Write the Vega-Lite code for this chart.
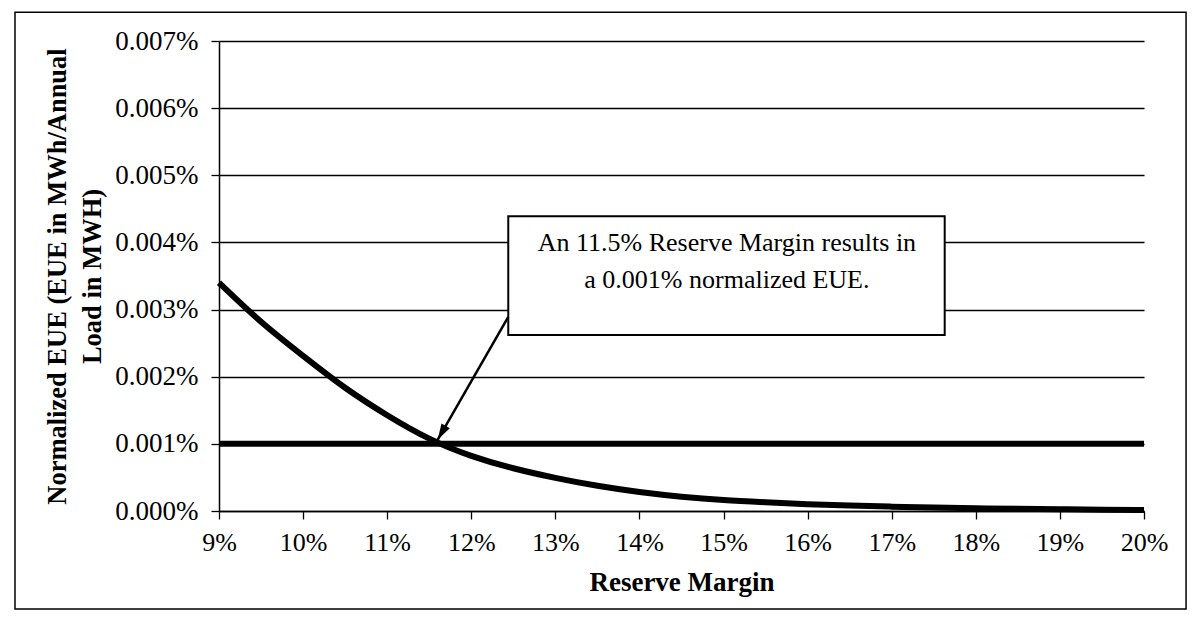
{
  "$schema": "https://vega.github.io/schema/vega-lite/v6.json",
  "width": 925,
  "height": 470,
  "autosize": {"type": "none"},
  "padding": {"left": 219, "top": 41, "right": 52, "bottom": 120},
  "background": "white",
  "config": {"view": {"stroke": null}, "font": "Liberation Serif"},
  "datasets": {
    "curve": [
      {"margin": 0.09, "eue": 0.0000340},
      {"margin": 0.095, "eue": 0.0000280},
      {"margin": 0.10, "eue": 0.0000231},
      {"margin": 0.105, "eue": 0.0000182},
      {"margin": 0.11, "eue": 0.0000142},
      {"margin": 0.115, "eue": 0.0000106},
      {"margin": 0.12, "eue": 0.0000081},
      {"margin": 0.125, "eue": 0.0000063},
      {"margin": 0.13, "eue": 0.0000049},
      {"margin": 0.135, "eue": 0.0000037},
      {"margin": 0.14, "eue": 0.0000028},
      {"margin": 0.145, "eue": 0.0000021},
      {"margin": 0.15, "eue": 0.0000016},
      {"margin": 0.155, "eue": 0.0000013},
      {"margin": 0.16, "eue": 0.0000010},
      {"margin": 0.165, "eue": 0.0000008},
      {"margin": 0.17, "eue": 0.00000065},
      {"margin": 0.175, "eue": 0.0000005},
      {"margin": 0.18, "eue": 0.0000004},
      {"margin": 0.185, "eue": 0.00000032},
      {"margin": 0.19, "eue": 0.00000025},
      {"margin": 0.195, "eue": 0.0000002},
      {"margin": 0.20, "eue": 0.00000015}
    ],
    "threshold": [{"start": 0.09, "end": 0.20, "eue": 0.00001}],
    "box": [{"left": 0.1244, "right": 0.1763, "top": 0.0000439, "bottom": 0.0000262}],
    "notes": [
      {"x": 0.1504, "y": 0.0000399, "label": "An 11.5% Reserve Margin results in"},
      {"x": 0.1504, "y": 0.0000344, "label": "a 0.001% normalized EUE."}
    ],
    "arrow": [{"x": 0.1244, "y": 0.0000289, "x2": 0.116, "y2": 0.0000106}],
    "frame": [{"left": 0.06574, "right": 0.2050, "top": 0.0000743, "bottom": -0.0000146}]
  },
  "encoding": {
    "x": {
      "type": "quantitative",
      "title": "Reserve Margin",
      "scale": {"domain": [0.09, 0.2], "nice": false, "zero": false},
      "axis": {
        "values": [0.09, 0.10, 0.11, 0.12, 0.13, 0.14, 0.15, 0.16, 0.17, 0.18, 0.19, 0.20],
        "format": ".0%",
        "grid": false,
        "domainColor": "black", "domainWidth": 1.5,
        "tickColor": "black", "tickSize": 8, "tickWidth": 1.3,
        "labelFont": "Liberation Serif", "labelFontSize": 26, "labelColor": "black",
        "labelPadding": 10, "labelFlush": false, "labelOverlap": false,
        "titleFont": "Liberation Serif", "titleFontSize": 27, "titleFontWeight": "bold",
        "titleColor": "black", "titlePadding": 14
      }
    },
    "y": {
      "type": "quantitative",
      "title": ["Normalized EUE (EUE in MWh/Annual", "Load in MWH)"],
      "scale": {"domain": [0, 0.00007], "nice": false, "zero": false},
      "axis": {
        "values": [0, 0.00001, 0.00002, 0.00003, 0.00004, 0.00005, 0.00006, 0.00007],
        "format": ".3%",
        "grid": true, "gridColor": "black", "gridWidth": 1.3, "gridOpacity": 1,
        "domainColor": "black", "domainWidth": 1.5,
        "tickColor": "black", "tickSize": 8, "tickWidth": 1.3,
        "labelFont": "Liberation Serif", "labelFontSize": 27, "labelColor": "black",
        "labelPadding": 13, "labelFlush": false, "labelOverlap": false,
        "titleFont": "Liberation Serif", "titleFontSize": 26.5, "titleFontWeight": "bold",
        "titleColor": "black", "titlePadding": 8, "titleLineHeight": 35
      }
    }
  },
  "layer": [
    {
      "data": {"name": "threshold"},
      "mark": {"type": "rule", "color": "black", "strokeWidth": 6},
      "encoding": {
        "x": {"field": "start", "type": "quantitative", "title": "Reserve Margin"},
        "x2": {"field": "end"},
        "y": {"field": "eue", "type": "quantitative", "title": ["Normalized EUE (EUE in MWh/Annual", "Load in MWH)"]}
      }
    },
    {
      "data": {"name": "curve"},
      "mark": {"type": "line", "color": "black", "strokeWidth": 6, "interpolate": "basis"},
      "encoding": {
        "x": {"field": "margin", "type": "quantitative", "title": "Reserve Margin"},
        "y": {"field": "eue", "type": "quantitative", "title": ["Normalized EUE (EUE in MWh/Annual", "Load in MWH)"]}
      }
    },
    {
      "data": {"name": "box"},
      "mark": {"type": "rect", "fill": "white", "stroke": "black", "strokeWidth": 2},
      "encoding": {
        "x": {"field": "left", "type": "quantitative", "title": "Reserve Margin"},
        "x2": {"field": "right"},
        "y": {"field": "top", "type": "quantitative", "title": ["Normalized EUE (EUE in MWh/Annual", "Load in MWH)"]},
        "y2": {"field": "bottom"}
      }
    },
    {
      "data": {"name": "notes"},
      "mark": {"type": "text", "font": "Liberation Serif", "fontSize": 26, "color": "black", "align": "center", "baseline": "middle"},
      "encoding": {
        "x": {"field": "x", "type": "quantitative", "title": "Reserve Margin"},
        "y": {"field": "y", "type": "quantitative", "title": ["Normalized EUE (EUE in MWh/Annual", "Load in MWH)"]},
        "text": {"field": "label"}
      }
    },
    {
      "data": {"name": "arrow"},
      "mark": {"type": "rule", "color": "black", "strokeWidth": 2.5},
      "encoding": {
        "x": {"field": "x", "type": "quantitative", "title": "Reserve Margin"},
        "y": {"field": "y", "type": "quantitative", "title": ["Normalized EUE (EUE in MWh/Annual", "Load in MWH)"]},
        "x2": {"field": "x2"},
        "y2": {"field": "y2"}
      }
    },
    {
      "data": {"name": "arrow"},
      "mark": {"type": "point", "shape": "M0,0L-0.6,2L0.6,2Z", "size": 256, "filled": true, "color": "black", "opacity": 1, "angle": 210},
      "encoding": {
        "x": {"field": "x2", "type": "quantitative", "title": "Reserve Margin"},
        "y": {"field": "y2", "type": "quantitative", "title": ["Normalized EUE (EUE in MWh/Annual", "Load in MWH)"]}
      }
    },
    {
      "data": {"name": "frame"},
      "mark": {"type": "rect", "fill": null, "fillOpacity": 0, "stroke": "black", "strokeWidth": 1.5, "clip": false},
      "encoding": {
        "x": {"field": "left", "type": "quantitative", "title": "Reserve Margin"},
        "x2": {"field": "right"},
        "y": {"field": "top", "type": "quantitative", "title": ["Normalized EUE (EUE in MWh/Annual", "Load in MWH)"]},
        "y2": {"field": "bottom"}
      }
    }
  ]
}
